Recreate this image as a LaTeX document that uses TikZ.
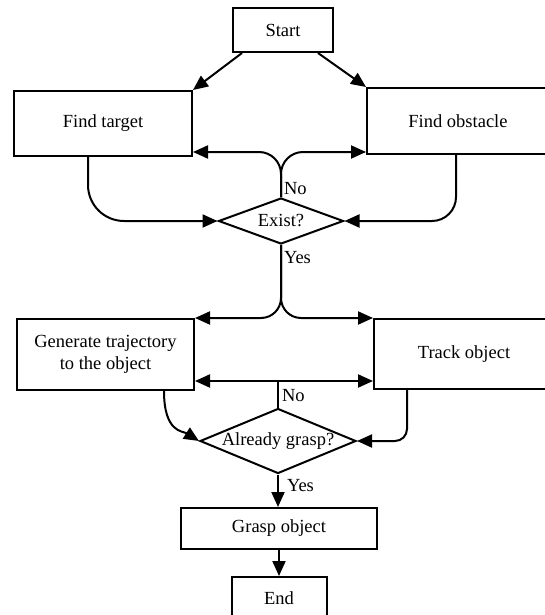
\documentclass[tikz,border=0pt]{standalone}
\usepackage{fontspec}
\setmainfont{Liberation Serif}
\usetikzlibrary{arrows.meta,shapes.geometric}

\begin{document}
\begin{tikzpicture}[x=1pt,y=-1pt,line width=2pt,
    >={Triangle[length=15pt,width=13pt]},
    every node/.style={font=\fontsize{18.5}{22}\selectfont},
    block/.style={draw,rectangle,align=center,inner sep=0pt},
    decision/.style={draw,diamond,inner sep=0pt},
    arr/.style={->},
    lbl/.style={anchor=west,inner sep=1pt}]
  \useasboundingbox (0,0) rectangle (544,615);
  \node[block,minimum width=100pt,minimum height=44pt] (start) at (283,30) {Start};
  \node[block,minimum width=178pt,minimum height=65pt] (target) at (103,123.5) {Find target};
  \node[block,minimum width=182pt,minimum height=66pt] (obstacle) at (458,121) {Find obstacle};
  \node[decision,aspect=2.7,minimum width=125pt,minimum height=46pt] (exist) at (281,221) {Exist?};
  \node[block,minimum width=177pt,minimum height=71pt] (traj) at (105.5,354.5) {Generate trajectory\\to the object};
  \node[block,minimum width=180pt,minimum height=70pt] (track) at (464,354) {Track object};
  \node[decision,aspect=2.4,minimum width=156pt,minimum height=65pt] (grasped) at (278,441) {Already grasp?};
  \node[block,minimum width=196pt,minimum height=41pt] (grasp) at (279,528.5) {Grasp object};
  \node[block,minimum width=95pt,minimum height=42pt] (done) at (279,598) {End};
  \node[lbl] (existno) at (282,189) {No};
  \node[lbl] (existyes) at (282,258) {Yes};
  \node[lbl] (graspedno) at (280,396) {No};
  \node[lbl] (graspedyes) at (285,486) {Yes};

  \draw[arr] ([xshift=10pt]start.south west) -- (target.north east);
  \draw[arr] ([xshift=-16pt]start.south east) -- (obstacle.north west);
  \draw[arr,rounded corners=22pt] (exist.north) |- ([yshift=5pt]target.south east);
  \draw[arr,rounded corners=22pt] (exist.north) |- ([yshift=3pt]obstacle.south west);
  \draw[arr,rounded corners=36pt] ([xshift=-15pt]target.south) |- (exist.west);
  \draw[arr,rounded corners=24pt] ([xshift=-2pt]obstacle.south) |- (exist.east);

  \draw[arr,rounded corners=20pt] (exist.south) |- (traj.north east);
  \draw[arr,rounded corners=20pt] (exist.south) |- (track.north west);
  \draw[<->] ([yshift=10pt]traj.south east) -- ([yshift=9pt]track.south west);
  \draw (grasped.north) -- ++(0,-28);
  \draw[arr] ([xshift=-31pt]traj.south east) .. controls +(0,42) and +(-16,-10) .. (grasped.west);
  \draw[arr,rounded corners=12pt] ([xshift=-57pt]track.south) |- (grasped.east);
  \draw[arr] (grasped.south) -- (grasped.south |- grasp.north);
  \draw[arr] (grasp) -- (done);
\end{tikzpicture}
\end{document}
